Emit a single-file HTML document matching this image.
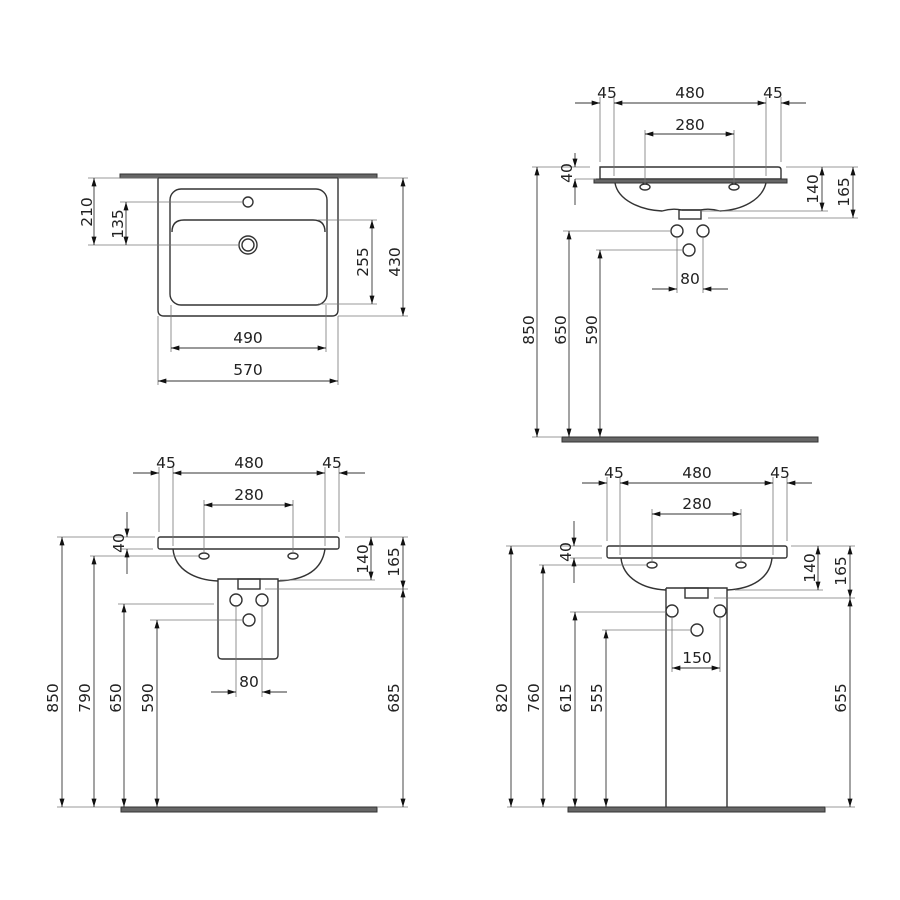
<!DOCTYPE html>
<html><head><meta charset="utf-8"><style>
html,body{margin:0;padding:0;background:#fff;}
svg{display:block;}
text{font-family:"DejaVu Sans","Liberation Sans",sans-serif;font-size:15.5px;fill:#222;}
</style></head><body>
<svg width="900" height="900" viewBox="0 0 900 900" xmlns="http://www.w3.org/2000/svg">
<defs>
<marker id="a" viewBox="0 0 10 6" refX="10" refY="3" markerWidth="9" markerHeight="5" markerUnits="userSpaceOnUse" orient="auto-start-reverse"><path d="M0,0L10,3L0,6z" fill="#111"/></marker>
</defs>
<rect width="900" height="900" fill="#fff"/>

<!-- ============ TOP LEFT ============ -->
<g fill="none" stroke="#333" stroke-width="1.4">
<rect x="120" y="174" width="257" height="4" fill="#666" stroke="#333" stroke-width="1"/>
<path d="M158,178 V310 Q158,316 164,316 H332 Q338,316 338,310 V178"/>
<rect x="170" y="189" width="157" height="116" rx="11"/>
<path d="M172,232 Q172,220 184,220 H313 Q325,220 325,232"/>
<circle cx="248" cy="202" r="5"/>
<circle cx="248" cy="245" r="9"/>
<circle cx="248" cy="245" r="6"/>
</g>
<g stroke="#777" stroke-width="0.8" fill="none">
<line x1="88" y1="178" x2="158" y2="178"/>
<line x1="88" y1="245" x2="240" y2="245"/>
<line x1="120" y1="202" x2="243" y2="202"/>
<line x1="318" y1="220" x2="377" y2="220"/>
<line x1="318" y1="304" x2="377" y2="304"/>
<line x1="338" y1="178" x2="408" y2="178"/>
<line x1="338" y1="316" x2="408" y2="316"/>
<line x1="171" y1="305" x2="171" y2="352"/>
<line x1="326" y1="305" x2="326" y2="352"/>
<line x1="158" y1="316" x2="158" y2="385"/>
<line x1="338" y1="316" x2="338" y2="385"/>
</g>
<g stroke="#333" stroke-width="0.9" marker-start="url(#a)" marker-end="url(#a)">
<line x1="94" y1="178" x2="94" y2="245"/>
<line x1="126" y1="202" x2="126" y2="245"/>
<line x1="372" y1="220" x2="372" y2="304"/>
<line x1="403" y1="178" x2="403" y2="316"/>
<line x1="171" y1="348" x2="326" y2="348"/>
<line x1="158" y1="381" x2="338" y2="381"/>
</g>
<text transform="translate(92,212) rotate(-90)" text-anchor="middle">210</text>
<text transform="translate(123,224) rotate(-90)" text-anchor="middle">135</text>
<text transform="translate(368,262) rotate(-90)" text-anchor="middle">255</text>
<text transform="translate(400,262) rotate(-90)" text-anchor="middle">430</text>
<text x="248" y="343" text-anchor="middle">490</text>
<text x="248" y="375" text-anchor="middle">570</text>

<!-- ============ TOP RIGHT ============ -->
<g fill="none" stroke="#333" stroke-width="1.4">
<path d="M600,167 H778 Q781,167 781,170 V179 H600 Z"/>
<rect x="594" y="179" width="193" height="4" fill="#666" stroke="#333" stroke-width="1"/>
<path d="M615,183 C618,200 640,210 662,211 Q672,208 682,210 H700 Q710,208 720,211 C742,210 762,200 766,183"/>
<rect x="679" y="210" width="22" height="9"/>
<ellipse cx="645" cy="187" rx="5" ry="3"/>
<ellipse cx="734" cy="187" rx="5" ry="3"/>
<circle cx="677" cy="231" r="6"/>
<circle cx="703" cy="231" r="6"/>
<circle cx="689" cy="250" r="6"/>
<rect x="562" y="437" width="256" height="5" fill="#666" stroke="#333" stroke-width="1"/>
</g>
<g stroke="#777" stroke-width="0.8" fill="none">
<line x1="600" y1="97" x2="600" y2="162"/>
<line x1="614" y1="97" x2="614" y2="176"/>
<line x1="766" y1="97" x2="766" y2="176"/>
<line x1="781" y1="97" x2="781" y2="162"/>
<line x1="645" y1="130" x2="645" y2="184"/>
<line x1="734" y1="130" x2="734" y2="184"/>
<line x1="532" y1="167" x2="590" y2="167"/>
<line x1="575" y1="179" x2="596" y2="179"/>
<line x1="786" y1="167" x2="858" y2="167"/>
<line x1="700" y1="211" x2="828" y2="211"/>
<line x1="708" y1="218" x2="858" y2="218"/>
<line x1="563" y1="231" x2="670" y2="231"/>
<line x1="596" y1="250" x2="683" y2="250"/>
<line x1="677" y1="237" x2="677" y2="293"/>
<line x1="703" y1="237" x2="703" y2="293"/>
<line x1="532" y1="437" x2="562" y2="437"/>
</g>
<g stroke="#333" stroke-width="0.9" marker-end="url(#a)">
<line x1="575" y1="103" x2="600" y2="103"/>
<line x1="806" y1="103" x2="781" y2="103"/>
<line x1="575" y1="153" x2="575" y2="167"/>
<line x1="575" y1="205" x2="575" y2="179"/>
<line x1="652" y1="289" x2="677" y2="289"/>
<line x1="728" y1="289" x2="703" y2="289"/>
<line x1="537" y1="167" x2="537" y2="437" marker-start="url(#a)"/>
<line x1="569" y1="231" x2="569" y2="437" marker-start="url(#a)"/>
<line x1="600" y1="250" x2="600" y2="437" marker-start="url(#a)"/>
<line x1="614" y1="103" x2="766" y2="103" marker-start="url(#a)"/>
<line x1="645" y1="134" x2="734" y2="134" marker-start="url(#a)"/>
<line x1="822" y1="167" x2="822" y2="211" marker-start="url(#a)"/>
<line x1="853" y1="167" x2="853" y2="218" marker-start="url(#a)"/>
</g>
<text x="607" y="98" text-anchor="middle">45</text>
<text x="690" y="98" text-anchor="middle">480</text>
<text x="773" y="98" text-anchor="middle">45</text>
<text x="690" y="130" text-anchor="middle">280</text>
<text x="690" y="284" text-anchor="middle">80</text>
<text transform="translate(572,173) rotate(-90)" text-anchor="middle">40</text>
<text transform="translate(534,330) rotate(-90)" text-anchor="middle">850</text>
<text transform="translate(566,330) rotate(-90)" text-anchor="middle">650</text>
<text transform="translate(597,330) rotate(-90)" text-anchor="middle">590</text>
<text transform="translate(818,189) rotate(-90)" text-anchor="middle">140</text>
<text transform="translate(849,192) rotate(-90)" text-anchor="middle">165</text>

<!-- ============ BOTTOM LEFT ============ -->
<g fill="none" stroke="#333" stroke-width="1.4">
<rect x="158" y="537" width="181" height="12" rx="2"/>
<path d="M173,549 C175,570 195,580 218,581 M278,581 C305,580 322,570 325,549"/>
<path d="M218,579 H278 V655 Q278,659 274,659 H222 Q218,659 218,655 Z"/>
<rect x="238" y="579" width="22" height="10"/>
<ellipse cx="204" cy="556" rx="5" ry="3"/>
<ellipse cx="293" cy="556" rx="5" ry="3"/>
<circle cx="236" cy="600" r="6"/>
<circle cx="262" cy="600" r="6"/>
<circle cx="249" cy="620" r="6"/>
<rect x="121" y="807" width="256" height="5" fill="#666" stroke="#333" stroke-width="1"/>
</g>
<g stroke="#777" stroke-width="0.8" fill="none">
<line x1="159" y1="467" x2="159" y2="532"/>
<line x1="173" y1="467" x2="173" y2="546"/>
<line x1="325" y1="467" x2="325" y2="546"/>
<line x1="339" y1="467" x2="339" y2="532"/>
<line x1="204" y1="500" x2="204" y2="553"/>
<line x1="293" y1="500" x2="293" y2="553"/>
<line x1="57" y1="537" x2="155" y2="537"/>
<line x1="120" y1="549" x2="153" y2="549"/>
<line x1="90" y1="556" x2="198" y2="556"/>
<line x1="118" y1="604" x2="214" y2="604"/>
<line x1="150" y1="620" x2="243" y2="620"/>
<line x1="345" y1="537" x2="408" y2="537"/>
<line x1="280" y1="580" x2="375" y2="580"/>
<line x1="265" y1="589" x2="408" y2="589"/>
<line x1="236" y1="606" x2="236" y2="697"/>
<line x1="262" y1="606" x2="262" y2="697"/>
<line x1="57" y1="807" x2="121" y2="807"/>
<line x1="377" y1="807" x2="408" y2="807"/>
</g>
<g stroke="#333" stroke-width="0.9" marker-end="url(#a)">
<line x1="133" y1="473" x2="159" y2="473"/>
<line x1="365" y1="473" x2="339" y2="473"/>
<line x1="127" y1="512" x2="127" y2="537"/>
<line x1="127" y1="574" x2="127" y2="549"/>
<line x1="211" y1="692" x2="236" y2="692"/>
<line x1="287" y1="692" x2="262" y2="692"/>
<line x1="173" y1="473" x2="325" y2="473" marker-start="url(#a)"/>
<line x1="204" y1="505" x2="293" y2="505" marker-start="url(#a)"/>
<line x1="62" y1="537" x2="62" y2="807" marker-start="url(#a)"/>
<line x1="94" y1="556" x2="94" y2="807" marker-start="url(#a)"/>
<line x1="124" y1="604" x2="124" y2="807" marker-start="url(#a)"/>
<line x1="157" y1="620" x2="157" y2="807" marker-start="url(#a)"/>
<line x1="371" y1="537" x2="371" y2="580" marker-start="url(#a)"/>
<line x1="403" y1="537" x2="403" y2="589" marker-start="url(#a)"/>
<line x1="403" y1="589" x2="403" y2="807" marker-start="url(#a)"/>
</g>
<text x="166" y="468" text-anchor="middle">45</text>
<text x="249" y="468" text-anchor="middle">480</text>
<text x="332" y="468" text-anchor="middle">45</text>
<text x="249" y="500" text-anchor="middle">280</text>
<text x="249" y="687" text-anchor="middle">80</text>
<text transform="translate(124,543) rotate(-90)" text-anchor="middle">40</text>
<text transform="translate(58,698) rotate(-90)" text-anchor="middle">850</text>
<text transform="translate(90,698) rotate(-90)" text-anchor="middle">790</text>
<text transform="translate(121,698) rotate(-90)" text-anchor="middle">650</text>
<text transform="translate(153,698) rotate(-90)" text-anchor="middle">590</text>
<text transform="translate(368,559) rotate(-90)" text-anchor="middle">140</text>
<text transform="translate(399,562) rotate(-90)" text-anchor="middle">165</text>
<text transform="translate(399,698) rotate(-90)" text-anchor="middle">685</text>

<!-- ============ BOTTOM RIGHT ============ -->
<g fill="none" stroke="#333" stroke-width="1.4">
<rect x="607" y="546" width="180" height="12" rx="2"/>
<path d="M621,558 C623,578 643,589 666,590 M727,590 C752,589 770,578 772,558"/>
<path d="M666,588 H727 V807 M666,588 V807"/>
<rect x="685" y="588" width="23" height="10"/>
<ellipse cx="652" cy="565" rx="5" ry="3"/>
<ellipse cx="741" cy="565" rx="5" ry="3"/>
<circle cx="672" cy="611" r="6"/>
<circle cx="720" cy="611" r="6"/>
<circle cx="697" cy="630" r="6"/>
<rect x="568" y="807" width="257" height="5" fill="#666" stroke="#333" stroke-width="1"/>
</g>
<g stroke="#777" stroke-width="0.8" fill="none">
<line x1="607" y1="477" x2="607" y2="541"/>
<line x1="620" y1="477" x2="620" y2="555"/>
<line x1="773" y1="477" x2="773" y2="555"/>
<line x1="787" y1="477" x2="787" y2="541"/>
<line x1="652" y1="509" x2="652" y2="562"/>
<line x1="741" y1="509" x2="741" y2="562"/>
<line x1="506" y1="546" x2="602" y2="546"/>
<line x1="570" y1="558" x2="602" y2="558"/>
<line x1="539" y1="565" x2="646" y2="565"/>
<line x1="570" y1="612" x2="666" y2="612"/>
<line x1="602" y1="630" x2="691" y2="630"/>
<line x1="791" y1="546" x2="855" y2="546"/>
<line x1="735" y1="590" x2="823" y2="590"/>
<line x1="714" y1="598" x2="855" y2="598"/>
<line x1="672" y1="617" x2="672" y2="672"/>
<line x1="720" y1="617" x2="720" y2="672"/>
<line x1="507" y1="807" x2="568" y2="807"/>
<line x1="825" y1="807" x2="855" y2="807"/>
</g>
<g stroke="#333" stroke-width="0.9" marker-end="url(#a)">
<line x1="582" y1="483" x2="607" y2="483"/>
<line x1="812" y1="483" x2="787" y2="483"/>
<line x1="574" y1="521" x2="574" y2="546"/>
<line x1="574" y1="583" x2="574" y2="558"/>
<line x1="620" y1="483" x2="773" y2="483" marker-start="url(#a)"/>
<line x1="652" y1="514" x2="741" y2="514" marker-start="url(#a)"/>
<line x1="672" y1="668" x2="720" y2="668" marker-start="url(#a)"/>
<line x1="511" y1="546" x2="511" y2="807" marker-start="url(#a)"/>
<line x1="543" y1="565" x2="543" y2="807" marker-start="url(#a)"/>
<line x1="575" y1="612" x2="575" y2="807" marker-start="url(#a)"/>
<line x1="606" y1="630" x2="606" y2="807" marker-start="url(#a)"/>
<line x1="818" y1="546" x2="818" y2="590" marker-start="url(#a)"/>
<line x1="850" y1="546" x2="850" y2="598" marker-start="url(#a)"/>
<line x1="850" y1="598" x2="850" y2="807" marker-start="url(#a)"/>
</g>
<text x="614" y="478" text-anchor="middle">45</text>
<text x="697" y="478" text-anchor="middle">480</text>
<text x="780" y="478" text-anchor="middle">45</text>
<text x="697" y="509" text-anchor="middle">280</text>
<text x="697" y="663" text-anchor="middle">150</text>
<text transform="translate(571,552) rotate(-90)" text-anchor="middle">40</text>
<text transform="translate(507,698) rotate(-90)" text-anchor="middle">820</text>
<text transform="translate(539,698) rotate(-90)" text-anchor="middle">760</text>
<text transform="translate(571,698) rotate(-90)" text-anchor="middle">615</text>
<text transform="translate(602,698) rotate(-90)" text-anchor="middle">555</text>
<text transform="translate(815,568) rotate(-90)" text-anchor="middle">140</text>
<text transform="translate(846,571) rotate(-90)" text-anchor="middle">165</text>
<text transform="translate(846,698) rotate(-90)" text-anchor="middle">655</text>
</svg>
</body></html>
